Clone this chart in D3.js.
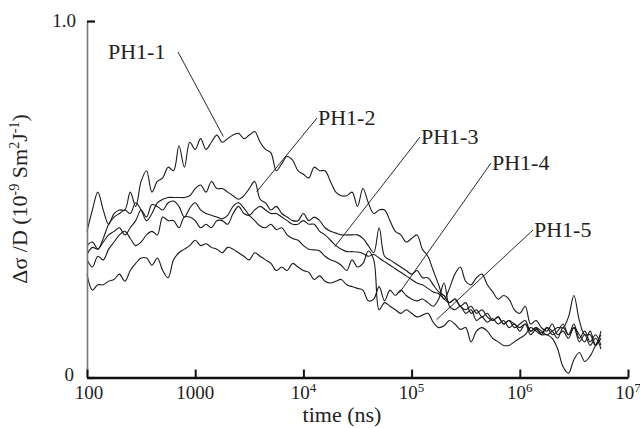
<!DOCTYPE html>
<html>
<head>
<meta charset="utf-8">
<script src="https://cdn.jsdelivr.net/npm/d3@7"></script>
<style>
  body { margin: 0; background: #fff; }
  svg { display: block; }
  .tick text { display: none; }
</style>
</head>
<body>
<div id="chart"></div>
<script>
// log10 of time (ns) at which the signals were sampled
const logTime = [
  2.00, 2.05, 2.10, 2.15, 2.20, 2.25, 2.30, 2.35, 2.40, 2.45,
  2.50, 2.55, 2.60, 2.65, 2.70, 2.75, 2.80, 2.85, 2.90, 2.95,
  3.00, 3.05, 3.10, 3.15, 3.20, 3.25, 3.30, 3.35, 3.40, 3.45,
  3.50, 3.55, 3.60, 3.65, 3.70, 3.75, 3.80, 3.85, 3.90, 3.95,
  4.00, 4.05, 4.10, 4.15, 4.20, 4.25, 4.30, 4.35, 4.40, 4.45,
  4.50, 4.55, 4.60, 4.65, 4.70, 4.75, 4.80, 4.85, 4.90, 4.95,
  5.00, 5.05, 5.10, 5.15, 5.20, 5.25, 5.30, 5.35, 5.40, 5.45,
  5.50, 5.55, 5.60, 5.65, 5.70, 5.75, 5.80, 5.85, 5.90, 5.95,
  6.00, 6.05, 6.10, 6.15, 6.20, 6.25, 6.30, 6.35, 6.40, 6.45,
  6.50, 6.55, 6.60, 6.65, 6.70, 6.75
];

// delta sigma / D (1e-9 S m2 J-1)
const ph1_1 = [
  0.41, 0.47, 0.52, 0.47, 0.43, 0.46, 0.47, 0.47, 0.52, 0.48,
  0.55, 0.58, 0.52, 0.55, 0.56, 0.59, 0.58, 0.65, 0.59, 0.66,
  0.64, 0.67, 0.64, 0.66, 0.68, 0.66, 0.67, 0.68, 0.685, 0.67,
  0.68, 0.69, 0.66, 0.64, 0.63, 0.58, 0.60, 0.62, 0.61, 0.58,
  0.57, 0.56, 0.59, 0.58, 0.58, 0.55, 0.52, 0.51, 0.51, 0.52,
  0.48, 0.53, 0.49, 0.46, 0.47, 0.47, 0.44, 0.41, 0.40, 0.38,
  0.39, 0.40, 0.36, 0.34, 0.30, 0.26, 0.22, 0.25, 0.29, 0.31,
  0.27, 0.26, 0.28, 0.29, 0.26, 0.24, 0.22, 0.23, 0.22, 0.19,
  0.18, 0.20, 0.15, 0.16, 0.14, 0.13, 0.15, 0.12, 0.13, 0.11,
  0.14, 0.12, 0.10, 0.13, 0.09, 0.13
];
const ph1_2 = [
  0.37, 0.38, 0.36, 0.39, 0.43, 0.45, 0.46, 0.47, 0.46, 0.49,
  0.47, 0.44, 0.46, 0.49, 0.50, 0.505, 0.505, 0.505, 0.505, 0.51,
  0.53, 0.54, 0.52, 0.55, 0.53, 0.53, 0.52, 0.51, 0.50, 0.51,
  0.53, 0.55, 0.50, 0.49, 0.47, 0.48, 0.46, 0.45, 0.44, 0.44,
  0.46, 0.44, 0.45, 0.44, 0.42, 0.41, 0.405, 0.40, 0.40, 0.40,
  0.40, 0.39, 0.37, 0.35, 0.42, 0.34, 0.33, 0.32, 0.31, 0.30,
  0.29, 0.30, 0.28, 0.28, 0.26, 0.24, 0.23, 0.21, 0.22, 0.20,
  0.21, 0.18, 0.19, 0.17, 0.18, 0.16, 0.17, 0.15, 0.16, 0.14,
  0.15, 0.16, 0.13, 0.14, 0.12, 0.14, 0.13, 0.11, 0.14, 0.12,
  0.15, 0.11, 0.13, 0.10, 0.12, 0.09
];
const ph1_3 = [
  0.33, 0.31, 0.34, 0.33, 0.36, 0.38, 0.40, 0.41, 0.39, 0.37,
  0.38, 0.40, 0.41, 0.40, 0.45, 0.44, 0.44, 0.42, 0.45, 0.45,
  0.44, 0.42, 0.43, 0.42, 0.44, 0.44, 0.43, 0.46, 0.48, 0.46,
  0.455, 0.47, 0.48, 0.47, 0.46, 0.46, 0.45, 0.44, 0.43, 0.43,
  0.44, 0.43, 0.43, 0.41, 0.40, 0.385, 0.37, 0.36, 0.353, 0.353,
  0.352, 0.348, 0.34, 0.345, 0.335, 0.325, 0.315, 0.305, 0.295, 0.285,
  0.275, 0.265, 0.26, 0.25, 0.24, 0.235, 0.22, 0.21, 0.22, 0.20,
  0.19, 0.20, 0.18, 0.19, 0.17, 0.16, 0.17, 0.15, 0.16, 0.15,
  0.14, 0.15, 0.13, 0.14, 0.13, 0.12, 0.13, 0.14, 0.14, 0.17,
  0.23, 0.16, 0.12, 0.12, 0.09, 0.11
];
const ph1_4 = [
  0.29, 0.245, 0.26, 0.26, 0.27, 0.275, 0.29, 0.27, 0.30, 0.32,
  0.335, 0.335, 0.315, 0.335, 0.30, 0.28, 0.33, 0.35, 0.36, 0.37,
  0.385, 0.37, 0.375, 0.365, 0.36, 0.35, 0.365, 0.36, 0.35, 0.34,
  0.33, 0.35, 0.34, 0.33, 0.32, 0.30, 0.31, 0.30, 0.32, 0.31,
  0.30, 0.295, 0.275, 0.285, 0.27, 0.265, 0.27, 0.275, 0.26, 0.255,
  0.25, 0.245, 0.215, 0.22, 0.255, 0.215, 0.245, 0.23, 0.245, 0.23,
  0.22, 0.215, 0.22, 0.21, 0.20, 0.22, 0.265, 0.20, 0.19, 0.20,
  0.18, 0.19, 0.16, 0.17, 0.155, 0.165, 0.15, 0.16, 0.14, 0.15,
  0.13, 0.15, 0.12, 0.135, 0.125, 0.14, 0.12, 0.13, 0.15, 0.12,
  0.14, 0.10, 0.12, 0.09, 0.11, 0.08
];
const ph1_5 = [
  0.345, 0.365, 0.36, 0.38, 0.40, 0.41, 0.42, 0.40, 0.42, 0.44,
  0.47, 0.45, 0.485, 0.48, 0.47, 0.49, 0.495, 0.48, 0.45, 0.475,
  0.49, 0.47, 0.46, 0.455, 0.45, 0.445, 0.455, 0.48, 0.49, 0.475,
  0.455, 0.44, 0.425, 0.42, 0.43, 0.415, 0.42, 0.40, 0.39, 0.385,
  0.37, 0.36, 0.358, 0.355, 0.34, 0.33, 0.325, 0.315, 0.30, 0.33,
  0.31, 0.32, 0.355, 0.33, 0.19, 0.21, 0.20, 0.19, 0.18, 0.19,
  0.18, 0.17, 0.175, 0.18, 0.155, 0.14, 0.145, 0.16, 0.15, 0.135,
  0.14, 0.10, 0.13, 0.14, 0.13, 0.11, 0.10, 0.09, 0.09, 0.10,
  0.11, 0.12, 0.14, 0.13, 0.12, 0.12, 0.11, 0.08, 0.03, 0.012,
  0.05, 0.07, 0.045, 0.06, 0.09, 0.12
];

const seriesNames = ['PH1-1', 'PH1-2', 'PH1-3', 'PH1-4', 'PH1-5'];
const seriesValues = [ph1_1, ph1_2, ph1_3, ph1_4, ph1_5];
// point on each curve that its label's leader line touches: [time (ns), value]
const leaderTargets = [[1820, 0.676], [3700, 0.521], [19500, 0.367], [77000, 0.237], [170000, 0.162]];

const xTicks = [100, 1000, 1e4, 1e5, 1e6, 1e7];
const xTickBase = ['100', '1000', '10', '10', '10', '10'];
const xTickExp = ['', '', '4', '5', '6', '7'];
const yTicks = [0, 1];
const yTickLabels = ['0', '1.0'];

const width = 640,
    height = 428,
    serif = '"Liberation Serif", "Times New Roman", serif';

const svg = d3.select('#chart')
    .append('svg')
        .attr('width', width)
        .attr('height', height)
        .style('font-family', serif);

const x = d3.scaleLog()
    .domain([100, 1e7])
    .range([87, 628]);

const y = d3.scaleLinear()
    .domain([0, 1])
    .range([377.5, 21]);

// curves
const line = d3.line()
    .x((d, i) => x(Math.pow(10, logTime[i])))
    .y(d => y(d))
    .curve(d3.curveCatmullRom.alpha(0.5));

svg.append('g')
    .attr('class', 'curves')
    .selectAll('path')
    .data(seriesValues)
    .enter()
    .append('path')
        .attr('d', line)
        .attr('fill', 'none')
        .attr('stroke', '#1a1a1a')
        .attr('stroke-width', 1.1)
        .attr('stroke-linejoin', 'round');

// y axis
const yAxisG = svg.append('g')
    .attr('transform', 'translate(' + x(100) + ',0)')
    .call(d3.axisLeft(y).tickValues(yTicks).tickSizeInner(-8).tickSizeOuter(0));
yAxisG.select('.domain').attr('stroke', '#777').attr('stroke-width', 1.6);
yAxisG.selectAll('.tick line').attr('stroke', '#111').attr('stroke-width', 2.2);

svg.append('g')
    .selectAll('text')
    .data(yTicks)
    .enter()
    .append('text')
        .attr('x', d => d === 0 ? 74 : 76)
        .attr('y', d => d === 0 ? y(d) + 3 : y(d) + 6)
        .attr('text-anchor', 'end')
        .style('font-size', '19px')
        .attr('fill', '#222')
        .text((d, i) => yTickLabels[i]);

// x axis
const xAxisG = svg.append('g')
    .attr('transform', 'translate(0,' + y(0) + ')')
    .call(d3.axisBottom(x).tickValues(xTicks).tickSizeInner(-8).tickSizeOuter(0));
xAxisG.select('.domain').attr('stroke', '#111').attr('stroke-width', 2.6);
xAxisG.selectAll('.tick line').attr('stroke', '#111').attr('stroke-width', 2);

const xLab = svg.append('g')
    .selectAll('text')
    .data(xTicks)
    .enter()
    .append('text')
        .attr('x', (d, i) => x(d) + (i === 0 ? 2 : 0))
        .attr('y', y(0) + 21)
        .attr('text-anchor', 'middle')
        .style('font-size', '19px')
        .attr('fill', '#222');
xLab.append('tspan').text((d, i) => xTickBase[i]);
xLab.append('tspan')
    .attr('dy', -7)
    .style('font-size', '13px')
    .text((d, i) => xTickExp[i]);

svg.append('text')
    .attr('x', 342)
    .attr('y', 422)
    .attr('text-anchor', 'middle')
    .style('font-size', '22px')
    .attr('fill', '#222')
    .text('time (ns)');

// y axis title
const yTitle = svg.append('text')
    .attr('transform', 'translate(27,199) rotate(-90)')
    .attr('text-anchor', 'middle')
    .style('font-size', '22px')
    .attr('fill', '#222');
yTitle.append('tspan').text('\u0394\u03c3 /D (10');
yTitle.append('tspan').attr('dy', -8).style('font-size', '14px').text('-9');
yTitle.append('tspan').attr('dy', 8).text(' Sm');
yTitle.append('tspan').attr('dy', -8).style('font-size', '14px').text('2');
yTitle.append('tspan').attr('dy', 8).text('J');
yTitle.append('tspan').attr('dy', -8).style('font-size', '14px').text('-1');
yTitle.append('tspan').attr('dy', 8).text(')');

// series labels with leader lines
const labelPos = [
    { tx: 108, ty: 59, lx: 178, ly: 52 },
    { tx: 318, ty: 125, lx: 317, ly: 118 },
    { tx: 421, ty: 144, lx: 420, ly: 137 },
    { tx: 492, ty: 170, lx: 491, ly: 163 },
    { tx: 534, ty: 237, lx: 533, ly: 230 }
];

const labelG = svg.append('g').attr('class', 'labels');

labelG.selectAll('line')
    .data(leaderTargets)
    .enter()
    .append('line')
        .attr('x1', (d, i) => labelPos[i].lx)
        .attr('y1', (d, i) => labelPos[i].ly)
        .attr('x2', d => x(d[0]))
        .attr('y2', d => y(d[1]))
        .attr('stroke', '#111')
        .attr('stroke-width', 0.9);

labelG.selectAll('text')
    .data(seriesNames)
    .enter()
    .append('text')
        .attr('x', (d, i) => labelPos[i].tx)
        .attr('y', (d, i) => labelPos[i].ty)
        .style('font-size', '22px')
        .attr('fill', '#222')
        .text(d => d);
</script>
</body>
</html>
